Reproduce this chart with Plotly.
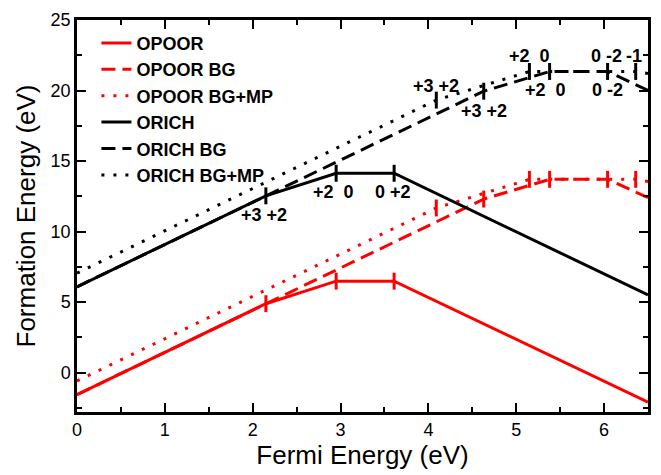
import plotly.graph_objects as go

# Fermi-energy breakpoints (eV) and formation energies (eV) for each defect curve
opoor_x = [0.0, 2.15, 2.95, 3.61, 6.5]
opoor_y = [-1.57, 4.88, 6.48, 6.48, -2.1]

opoor_bg_x = [0.0, 4.63, 5.38, 6.04, 6.5]
opoor_bg_y = [-1.57, 12.3, 13.7, 13.7, 12.4]

opoor_bgmp_x = [0.0, 4.09, 5.15, 6.36, 6.5]
opoor_bgmp_y = [-0.6, 11.67, 13.7, 13.7, 13.55]

orich_x = [0.0, 2.15, 2.95, 3.61, 6.5]
orich_y = [6.08, 12.53, 14.13, 14.13, 5.5]

orich_bg_x = [0.0, 4.63, 5.38, 6.04, 6.5]
orich_bg_y = [6.08, 19.95, 21.35, 21.35, 20.0]

orich_bgmp_x = [0.0, 4.09, 5.15, 6.36, 6.5]
orich_bgmp_y = [7.05, 19.32, 21.35, 21.35, 21.2]

# charge-state labels at the transition levels: (text, fermi energy, formation energy)
charge_labels = [
    ("+3 +2", 2.13, 11.18),
    ("+2  0", 2.92, 12.79),
    ("0 +2", 3.60, 12.79),
    ("+3 +2", 4.09, 20.29),
    ("+3 +2", 4.63, 18.56),
    ("+2  0", 5.15, 22.48),
    ("+2  0", 5.33, 20.06),
    ("0 -2", 6.03, 22.48),
    ("-1", 6.34, 22.48),
    ("0 -2", 6.04, 20.06),
]

RED = "#ff0000"
BLACK = "#000000"
LW = 3
TICK_HALF = 0.6
DOT = "3px,9px"
DASH = "14px,7px"

series = [
    ("OPOOR", opoor_x, opoor_y, RED, "solid"),
    ("OPOOR BG", opoor_bg_x, opoor_bg_y, RED, DASH),
    ("OPOOR BG+MP", opoor_bgmp_x, opoor_bgmp_y, RED, DOT),
    ("ORICH", orich_x, orich_y, BLACK, "solid"),
    ("ORICH BG", orich_bg_x, orich_bg_y, BLACK, DASH),
    ("ORICH BG+MP", orich_bgmp_x, orich_bgmp_y, BLACK, DOT),
]

fig = go.Figure()

for name, xs, ys, color, dash in series:
    fig.add_trace(go.Scatter(
        x=xs, y=ys, mode="lines", name=name,
        line=dict(color=color, width=LW, dash=dash),
    ))

# short vertical markers at every transition level (interior breakpoints)
for name, xs, ys, color, dash in series:
    tx, ty = [], []
    for xv, yv in zip(xs[1:-1], ys[1:-1]):
        tx += [xv, xv, None]
        ty += [yv - TICK_HALF, yv + TICK_HALF, None]
    fig.add_trace(go.Scatter(
        x=tx, y=ty, mode="lines", showlegend=False, hoverinfo="skip",
        line=dict(color=color, width=LW),
    ))

for text, xv, yv in charge_labels:
    fig.add_annotation(
        x=xv, y=yv, text=text, showarrow=False,
        xanchor="center", yanchor="middle",
        font=dict(family="Liberation Sans", size=18, color="black", weight="bold"),
    )

axis_common = dict(
    showline=True, linecolor="black", linewidth=2.5, mirror="ticks",
    ticks="inside", ticklen=9, tickwidth=2, tickcolor="black",
    showgrid=False, zeroline=False,
    tickfont=dict(family="Liberation Sans", size=18, color="black"),
    title_font=dict(family="Liberation Sans", size=26, color="black"),
)

fig.update_xaxes(
    range=[0, 6.5], dtick=1, tick0=0,
    minor=dict(dtick=0.5, ticks="inside", ticklen=5, tickwidth=2, tickcolor="black"),
    title_text="Fermi Energy (eV)", title_standoff=6,
    **axis_common,
)
fig.update_yaxes(
    range=[-2.8, 25], dtick=5, tick0=0,
    minor=dict(dtick=2.5, ticks="inside", ticklen=5, tickwidth=2, tickcolor="black"),
    title_text="Formation Energy (eV)", title_standoff=8,
    **axis_common,
)

fig.update_layout(
    width=661, height=475,
    margin=dict(l=77, r=10, t=16, b=57),
    paper_bgcolor="white", plot_bgcolor="white",
    legend=dict(
        x=0.034, y=0.988, xanchor="left", yanchor="top",
        bgcolor="rgba(0,0,0,0)",
        font=dict(family="Liberation Sans", size=18, color="black", weight="bold"),
        tracegroupgap=0,
    ),
)

fig.write_html("out.html")
